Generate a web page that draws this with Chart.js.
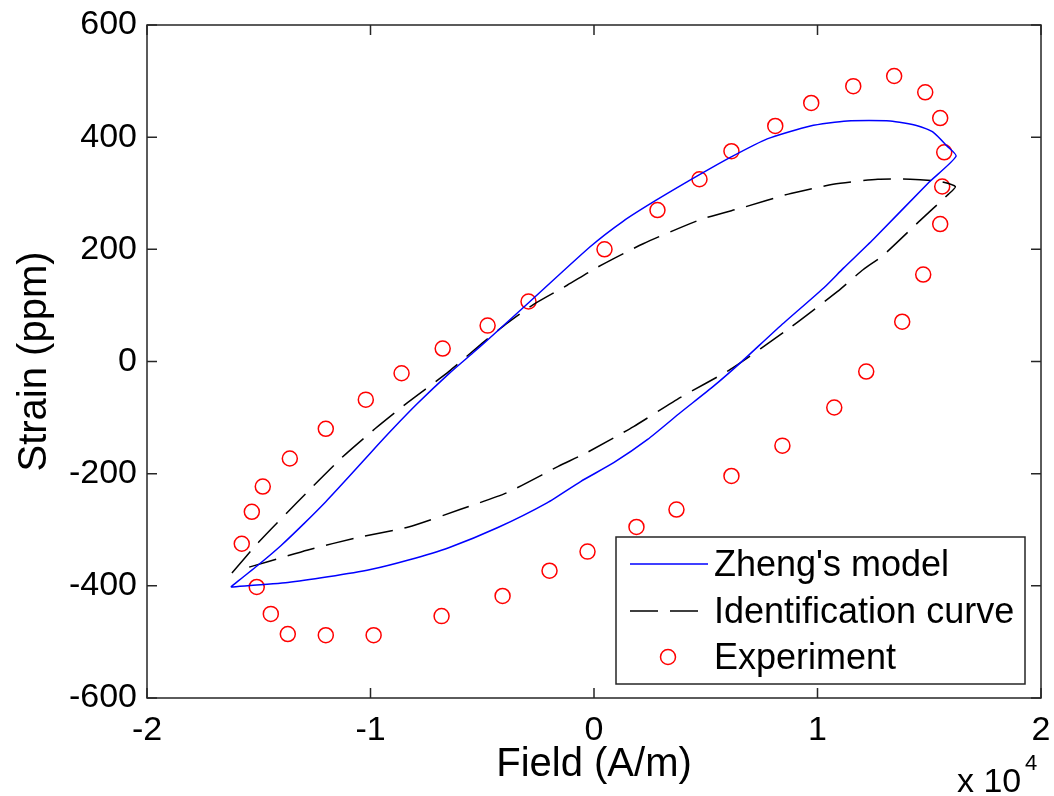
<!DOCTYPE html>
<html>
<head>
<meta charset="utf-8">
<script src="https://cdn.jsdelivr.net/npm/chart.js@4/dist/chart.umd.min.js"></script>
<style>
  html, body { margin: 0; padding: 0; background: #fff; }
  #wrap { width: 1054px; height: 796px; }
</style>
</head>
<body>
<div id="wrap"><canvas id="chart"></canvas></div>
<script>
// field values are in units of 1e4 A/m (as on the axis), strain in ppm

// Zheng's model loop: rising branch then falling branch
const zhengX = [-1.625, -1.50, -1.40, -1.30, -1.20, -1.10, -1.00, -0.90, -0.79, -0.65, -0.54, -0.48, -0.30, -0.016, 0.13, 0.28, 0.476, 0.61, 0.775, 0.968, 1.133, 1.325, 1.45, 1.517, 1.58, 1.62,
                1.50, 1.25, 1.115, 1.03, 0.83, 0.656, 0.535, 0.387, 0.24, 0.09, -0.06, -0.21, -0.43, -0.65, -0.83, -1.00, -1.19, -1.37, -1.625];
const zhengY = [-402, -362, -328, -290, -250, -207, -163, -120, -75, -22, 16, 37, 102, 205, 250, 288, 334, 364, 397, 420, 429, 429, 420, 409, 384, 366,
                320, 218, 166, 132, 62, -2, -44, -91, -139, -180, -214, -252, -296, -332, -354, -371, -384, -394, -402];

// identification curve loop
const identX = [-1.62, -1.50, -1.33, -1.13, -0.98, -0.83, -0.65, -0.49, -0.39, -0.27, -0.12, 0.015, 0.22, 0.476, 0.67, 0.865, 1.07, 1.27, 1.415, 1.55, 1.617,
                1.585, 1.45, 1.29, 1.205, 1.09, 0.88, 0.61, 0.387, 0.177, -0.03, -0.16, -0.39, -0.60, -0.83, -1.06, -1.28, -1.46, -1.58];
const identY = [-377, -322, -252, -172, -120, -72, -18, 36, 68, 102, 136, 168, 210, 253, 275, 298, 316, 325, 325, 321, 312,
                298, 248, 188, 164, 125, 61, -14, -64, -116, -162, -187, -234, -264, -295, -314, -336, -357, -371];

// experiment points
const expX = [-1.576, -1.531, -1.482, -1.361, -1.200, -1.021, -0.861, -0.677, -0.476, -0.293, 0.047, 0.284, 0.472, 0.615, 0.811, 0.972, 1.160, 1.343, 1.482, 1.549,
              1.567, 1.558, 1.549, 1.473, 1.379, 1.218, 1.075, 0.843, 0.615, 0.369, 0.190, -0.029, -0.199, -0.409, -0.682, -0.986, -1.200, -1.370, -1.446, -1.509];
const expY = [-325, -268, -223, -173, -120, -68, -21, 23, 64, 107, 200, 270, 325, 375, 420, 461, 491, 509, 480, 434,
              373, 312, 245, 155, 71, -18, -82, -150, -204, -264, -295, -339, -373, -418, -454, -488, -488, -486, -450, -402];

const xTicks = [-2, -1, 0, 1, 2];
const yTicks = [-600, -400, -200, 0, 200, 400, 600];
const legendLabels = ["Zheng's model", "Identification curve", "Experiment"];

const FONT = "'Liberation Sans', Arial, sans-serif";

function pairs(xs, ys) {
    return xs.map((x, i) => ({ x: x, y: ys[i] }));
}

// box, inward ticks, legend and exponent label, matlab style
const matlabFrame = {
    id: 'matlabFrame',
    afterDraw(chart) {
        const ctx = chart.ctx;
        const a = chart.chartArea;
        const xs = chart.scales.x;
        const ys = chart.scales.y;
        ctx.save();
        ctx.strokeStyle = '#262626';
        ctx.lineWidth = 1.5;
        ctx.strokeRect(a.left, a.top, a.right - a.left, a.bottom - a.top);
        const t = 10;
        ctx.beginPath();
        xTicks.forEach(v => {
            const px = xs.getPixelForValue(v);
            ctx.moveTo(px, a.bottom); ctx.lineTo(px, a.bottom - t);
            ctx.moveTo(px, a.top); ctx.lineTo(px, a.top + t);
        });
        yTicks.forEach(v => {
            const py = ys.getPixelForValue(v);
            ctx.moveTo(a.left, py); ctx.lineTo(a.left + t, py);
            ctx.moveTo(a.right, py); ctx.lineTo(a.right - t, py);
        });
        ctx.stroke();

        // legend
        const bx = 616, by = 537, bw = 409, bh = 147;
        ctx.fillStyle = '#fff';
        ctx.fillRect(bx, by, bw, bh);
        ctx.strokeStyle = '#262626';
        ctx.lineWidth = 1.5;
        ctx.strokeRect(bx, by, bw, bh);
        const rows = [564, 611, 657];
        const ds = chart.data.datasets;
        ctx.font = '36px ' + FONT;
        ctx.textBaseline = 'middle';
        ctx.textAlign = 'left';
        rows.forEach((ry, i) => {
            const d = ds[i];
            if (i < 2) {
                ctx.beginPath();
                ctx.strokeStyle = d.borderColor;
                ctx.lineWidth = d.borderWidth;
                ctx.setLineDash(d.borderDash || []);
                ctx.moveTo(630, ry); ctx.lineTo(708, ry);
                ctx.stroke();
                ctx.setLineDash([]);
            } else {
                ctx.beginPath();
                ctx.strokeStyle = d.borderColor;
                ctx.lineWidth = d.borderWidth;
                ctx.arc(668, ry, d.pointRadius, 0, Math.PI * 2);
                ctx.stroke();
            }
            ctx.fillStyle = '#000';
            ctx.fillText(legendLabels[i], 714, ry + 2);
        });

        // x 10^4
        ctx.fillStyle = '#000';
        ctx.textBaseline = 'alphabetic';
        ctx.font = '34px ' + FONT;
        ctx.fillText('x 10', 957, 792);
        ctx.font = '22px ' + FONT;
        ctx.fillText('4', 1025, 770);
        ctx.restore();
    }
};

new Chart(document.getElementById('chart'), {
    type: 'scatter',
    data: {
        datasets: [
            {
                label: legendLabels[0],
                data: pairs(zhengX, zhengY),
                showLine: true,
                borderColor: 'rgb(0, 0, 255)',
                borderWidth: 1.5,
                pointRadius: 0,
                tension: 0.2,
                fill: false
            },
            {
                label: legendLabels[1],
                data: pairs(identX, identY),
                showLine: true,
                borderColor: '#000',
                borderWidth: 1.5,
                borderDash: [28, 12],
                pointRadius: 0,
                tension: 0.2,
                fill: false
            },
            {
                label: legendLabels[2],
                data: pairs(expX, expY),
                showLine: false,
                pointStyle: 'circle',
                pointRadius: 7.5,
                borderColor: 'rgb(255, 0, 0)',
                backgroundColor: 'rgba(0,0,0,0)',
                borderWidth: 1.5
            }
        ]
    },
    options: {
        responsive: true,
        maintainAspectRatio: false,
        animation: false,
        layout: { padding: { top: 25, right: 13, left: 0, bottom: 0 } },
        plugins: {
            legend: { display: false },
            tooltip: { enabled: false }
        },
        scales: {
            x: {
                type: 'linear',
                min: -2,
                max: 2,
                afterBuildTicks: s => { s.ticks = xTicks.map(v => ({ value: v })); },
                afterFit: s => { s.height = 98; s.paddingLeft = 0; s.paddingRight = 0; },
                grid: { display: false, drawTicks: false },
                border: { display: false },
                ticks: {
                    padding: 12,
                    color: '#000',
                    font: { family: FONT, size: 34 },
                    callback: v => String(v)
                },
                title: {
                    display: true,
                    text: 'Field (A/m)',
                    color: '#000',
                    font: { family: FONT, size: 40 },
                    padding: { top: 0, bottom: 7 }
                }
            },
            y: {
                type: 'linear',
                min: -600,
                max: 600,
                afterBuildTicks: s => { s.ticks = yTicks.map(v => ({ value: v })); },
                afterFit: s => { s.width = 147; s.paddingTop = 0; s.paddingBottom = 0; },
                grid: { display: false, drawTicks: false },
                border: { display: false },
                ticks: {
                    padding: 10,
                    color: '#000',
                    font: { family: FONT, size: 34 },
                    callback: v => String(v)
                },
                title: {
                    display: true,
                    text: 'Strain (ppm)',
                    color: '#000',
                    font: { family: FONT, size: 40 },
                    padding: { top: 11, bottom: 0 }
                }
            }
        }
    },
    plugins: [matlabFrame]
});
</script>
</body>
</html>
